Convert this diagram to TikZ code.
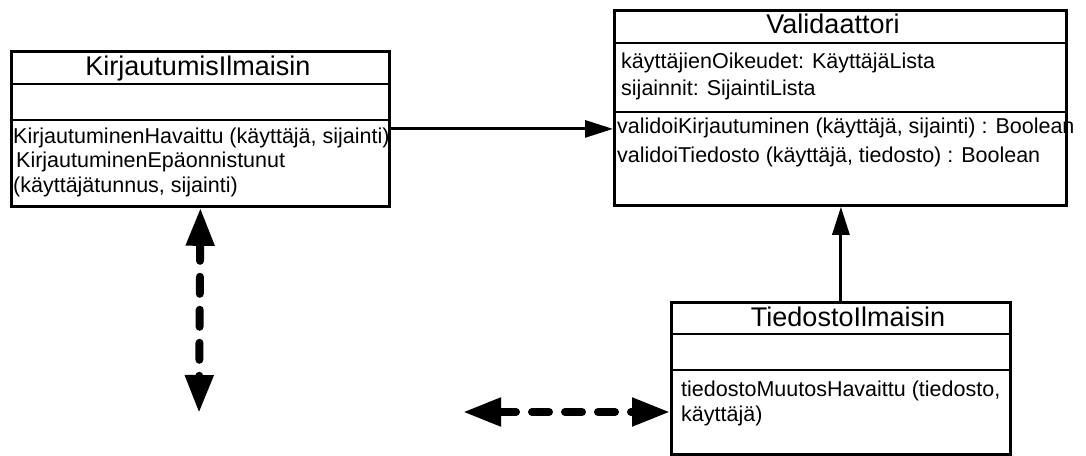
\documentclass[tikz,border=0pt]{standalone}
\usepackage{fontspec}
\setmainfont{Liberation Sans}
\usetikzlibrary{arrows.meta}
\begin{document}
\begin{tikzpicture}[x=1pt,y=-1pt,
  classbox/.style={draw, line width=2.8pt, rectangle, inner sep=0pt, anchor=north west},
  divider/.style={line width=2.6pt},
  title/.style={anchor=base, inner sep=0pt, font=\fontsize{27}{30}\selectfont},
  member/.style={anchor=base west, inner sep=0pt, font=\fontsize{21.5}{24}\selectfont},
  assoc/.style={line width=3pt, -{Triangle[length=28pt,width=17pt]}},
  dep/.style={line width=8pt, line cap=round, dash pattern=on 17pt off 16pt,
    {Triangle[length=38pt,width=27pt]}-{Triangle[length=38pt,width=27pt]}}
]
\useasboundingbox[fill=white] (0,0) rectangle (1086,455);

% class boxes
\node[classbox, minimum width=378pt, minimum height=155pt] (kirj) at (10,50) {};
\node[classbox, minimum width=452pt, minimum height=195pt] (val) at (613,9) {};
\node[classbox, minimum width=339pt, minimum height=152pt] (tied) at (670,301) {};

% compartment dividers
\draw[divider] (10,84) -- (388,84);
\draw[divider] (10,120) -- (388,120);
\draw[divider] (613,43) -- (1065,43);
\draw[divider] (613,112) -- (1065,112);
\draw[divider] (670,334) -- (1009,334);
\draw[divider] (670,370) -- (1009,370);

% titles
\node[title] (kirjT) at (198,75) {KirjautumisIlmaisin};
\node[title] (valT) at (833,33) {Validaattori};
\node[title] (tiedT) at (848,326) {TiedostoIlmaisin};

% KirjautumisIlmaisin operations
\node[member] (k1) at (13,143) {KirjautuminenHavaittu (käyttäjä, sijainti)};
\node[member] (k2) at (16,167) {KirjautuminenEpäonnistunut};
\node[member] (k3) at (13,192) {(käyttäjätunnus, sijainti)};

% Validaattori attributes and operations
\node[member] (va1) at (621,68) {käyttäjienOikeudet: KäyttäjäLista};
\node[member] (va2) at (621,95) {sijainnit: SijaintiLista};
\node[member] (vo1) at (617,133) {validoiKirjautuminen (käyttäjä, sijainti) : Boolean};
\node[member] (vo2) at (617,162) {validoiTiedosto (käyttäjä, tiedosto) : Boolean};

% TiedostoIlmaisin operations
\node[member] (t1) at (681,396) {tiedostoMuutosHavaittu (tiedosto,};
\node[member] (t2) at (681,421) {käyttäjä)};

% solid connectors
\draw[assoc] (kirj.east) -- (kirj.east -| val.west);
\draw[assoc] (tied.north) -- (tied.north |- val.south);

% dashed double arrows
\coordinate (kEnd) at (199,413);
\coordinate (tEnd) at (463,412);
\draw[dep] (kirj.south) -- (kEnd);
\draw[dep] (tEnd) -- (tEnd -| tied.west);
\end{tikzpicture}
\end{document}
